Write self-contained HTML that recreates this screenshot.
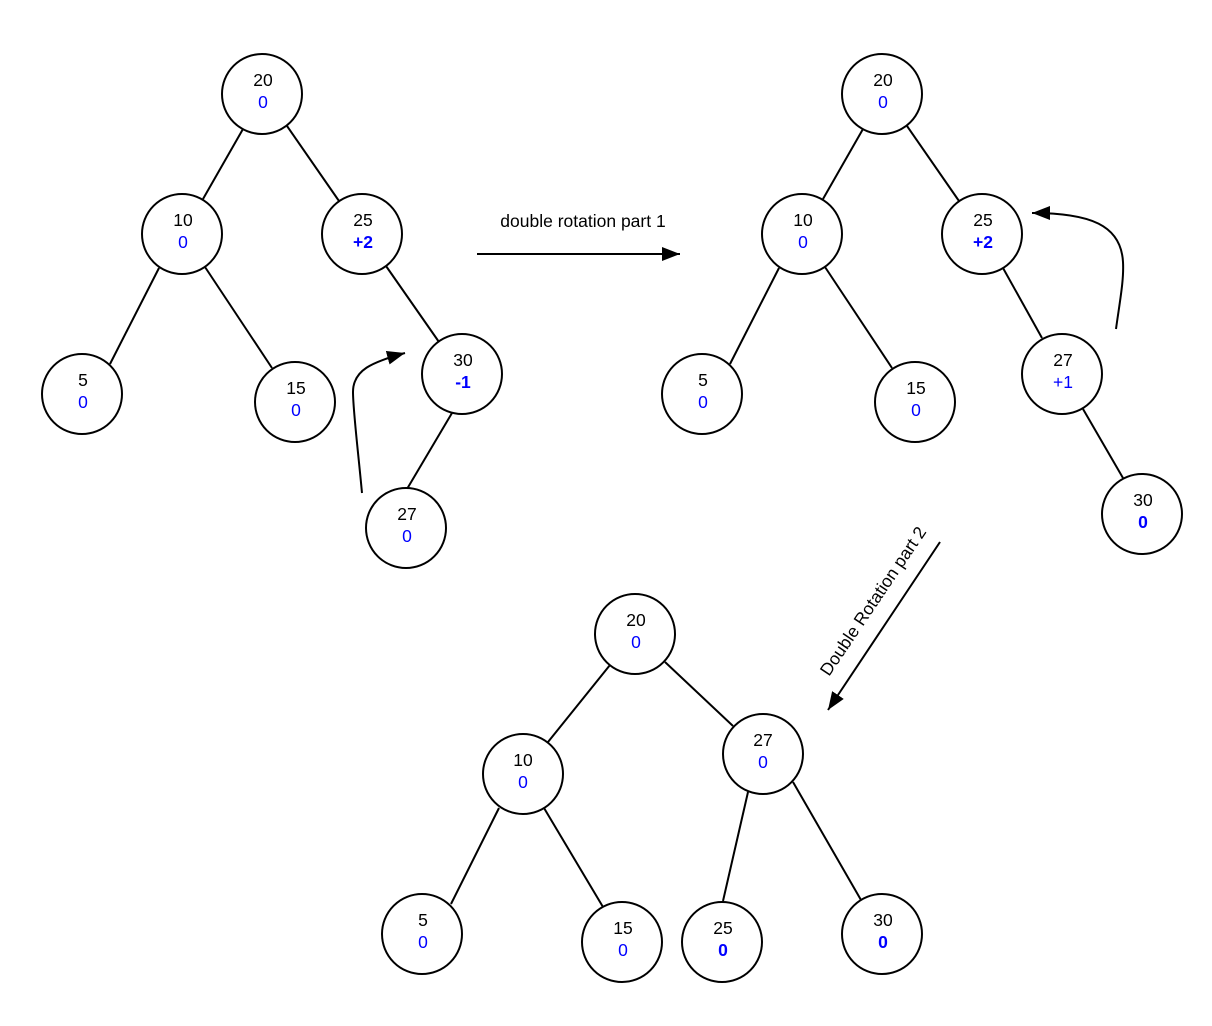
<!DOCTYPE html>
<html>
<head>
<meta charset="utf-8">
<style>
  html,body{margin:0;padding:0;background:#fff;}
  svg{display:block;}
  .n{font-family:"Liberation Sans",Arial,sans-serif;font-size:17.5px;fill:#000;text-anchor:middle;}
  .v{font-family:"Liberation Sans",Arial,sans-serif;font-size:17.5px;fill:#0000ff;text-anchor:middle;}
  .b{font-weight:bold;}
  .lbl{font-family:"Liberation Sans",Arial,sans-serif;font-size:17.5px;fill:#000;text-anchor:middle;}
  circle{fill:#fff;stroke:#000;stroke-width:2;}
  line,path.c{stroke:#000;stroke-width:2;fill:none;}
</style>
</head>
<body>
<svg width="1212" height="1026" viewBox="0 0 1212 1026" xmlns="http://www.w3.org/2000/svg">
  <defs>
    <marker id="ah" markerUnits="userSpaceOnUse" markerWidth="20" markerHeight="14" refX="18" refY="7" orient="auto">
      <path d="M0,0 L18,7 L0,14 Z" fill="#000"/>
    </marker>
  </defs>
  <rect width="1212" height="1026" fill="#fff"/>

  <!-- Tree 1 edges -->
  <line x1="243" y1="129" x2="203" y2="199"/>
  <line x1="287" y1="126" x2="339" y2="201"/>
  <line x1="159" y1="268" x2="110" y2="364"/>
  <line x1="205" y1="267" x2="272" y2="368"/>
  <line x1="386" y1="266" x2="439" y2="342"/>
  <line x1="452" y1="413" x2="407" y2="489"/>

  <!-- Tree 2 edges -->
  <line x1="863" y1="129" x2="823" y2="199"/>
  <line x1="907" y1="126" x2="959" y2="201"/>
  <line x1="779" y1="268" x2="730" y2="364"/>
  <line x1="825" y1="267" x2="892" y2="368"/>
  <line x1="1003" y1="268" x2="1042" y2="338"/>
  <line x1="1083" y1="409" x2="1123" y2="478"/>

  <!-- Tree 3 edges -->
  <line x1="610" y1="665" x2="548" y2="742"/>
  <line x1="665" y1="662" x2="733" y2="726"/>
  <line x1="499" y1="808" x2="451" y2="904"/>
  <line x1="544" y1="808" x2="603" y2="907"/>
  <line x1="748" y1="792" x2="723" y2="901"/>
  <line x1="793" y1="782" x2="861" y2="900"/>

  <!-- Tree 1 nodes -->
  <g>
    <circle cx="262" cy="94" r="40"/><text class="n" x="263" y="86">20</text><text class="v" x="263" y="108">0</text>
    <circle cx="182" cy="234" r="40"/><text class="n" x="183" y="226">10</text><text class="v" x="183" y="248">0</text>
    <circle cx="362" cy="234" r="40"/><text class="n" x="363" y="226">25</text><text class="v b" x="363" y="248">+2</text>
    <circle cx="82" cy="394" r="40"/><text class="n" x="83" y="386">5</text><text class="v" x="83" y="408">0</text>
    <circle cx="295" cy="402" r="40"/><text class="n" x="296" y="394">15</text><text class="v" x="296" y="416">0</text>
    <circle cx="462" cy="374" r="40"/><text class="n" x="463" y="366">30</text><text class="v b" x="463" y="388">-1</text>
    <circle cx="406" cy="528" r="40"/><text class="n" x="407" y="520">27</text><text class="v" x="407" y="542">0</text>
  </g>

  <!-- Tree 2 nodes -->
  <g>
    <circle cx="882" cy="94" r="40"/><text class="n" x="883" y="86">20</text><text class="v" x="883" y="108">0</text>
    <circle cx="802" cy="234" r="40"/><text class="n" x="803" y="226">10</text><text class="v" x="803" y="248">0</text>
    <circle cx="982" cy="234" r="40"/><text class="n" x="983" y="226">25</text><text class="v b" x="983" y="248">+2</text>
    <circle cx="702" cy="394" r="40"/><text class="n" x="703" y="386">5</text><text class="v" x="703" y="408">0</text>
    <circle cx="915" cy="402" r="40"/><text class="n" x="916" y="394">15</text><text class="v" x="916" y="416">0</text>
    <circle cx="1062" cy="374" r="40"/><text class="n" x="1063" y="366">27</text><text class="v" x="1063" y="388">+1</text>
    <circle cx="1142" cy="514" r="40"/><text class="n" x="1143" y="506">30</text><text class="v b" x="1143" y="528">0</text>
  </g>

  <!-- Tree 3 nodes -->
  <g>
    <circle cx="635" cy="634" r="40"/><text class="n" x="636" y="626">20</text><text class="v" x="636" y="648">0</text>
    <circle cx="523" cy="774" r="40"/><text class="n" x="523" y="766">10</text><text class="v" x="523" y="788">0</text>
    <circle cx="763" cy="754" r="40"/><text class="n" x="763" y="746">27</text><text class="v" x="763" y="768">0</text>
    <circle cx="422" cy="934" r="40"/><text class="n" x="423" y="926">5</text><text class="v" x="423" y="948">0</text>
    <circle cx="622" cy="942" r="40"/><text class="n" x="623" y="934">15</text><text class="v" x="623" y="956">0</text>
    <circle cx="722" cy="942" r="40"/><text class="n" x="723" y="934">25</text><text class="v b" x="723" y="956">0</text>
    <circle cx="882" cy="934" r="40"/><text class="n" x="883" y="926">30</text><text class="v b" x="883" y="948">0</text>
  </g>

  <!-- Arrow 1 -->
  <line x1="477" y1="254" x2="680" y2="254" marker-end="url(#ah)"/>
  <text class="lbl" x="583" y="227">double rotation part 1</text>

  <!-- Curved arrow tree 1 -->
  <path class="c" d="M362,493 C358,450 353,410 353,392 C353,370 372,362 405,353" marker-end="url(#ah)"/>

  <!-- Curved arrow tree 2 -->
  <path class="c" d="M1116,329 C1120,300 1124,280 1123,262 C1121,225 1090,213 1032,213" marker-end="url(#ah)"/>

  <!-- Arrow 3 -->
  <line x1="940" y1="542" x2="828" y2="710" marker-end="url(#ah)"/>
  <text class="lbl" transform="translate(873,601) rotate(-56)" x="0" y="6">Double Rotation part 2</text>
</svg>
</body>
</html>
